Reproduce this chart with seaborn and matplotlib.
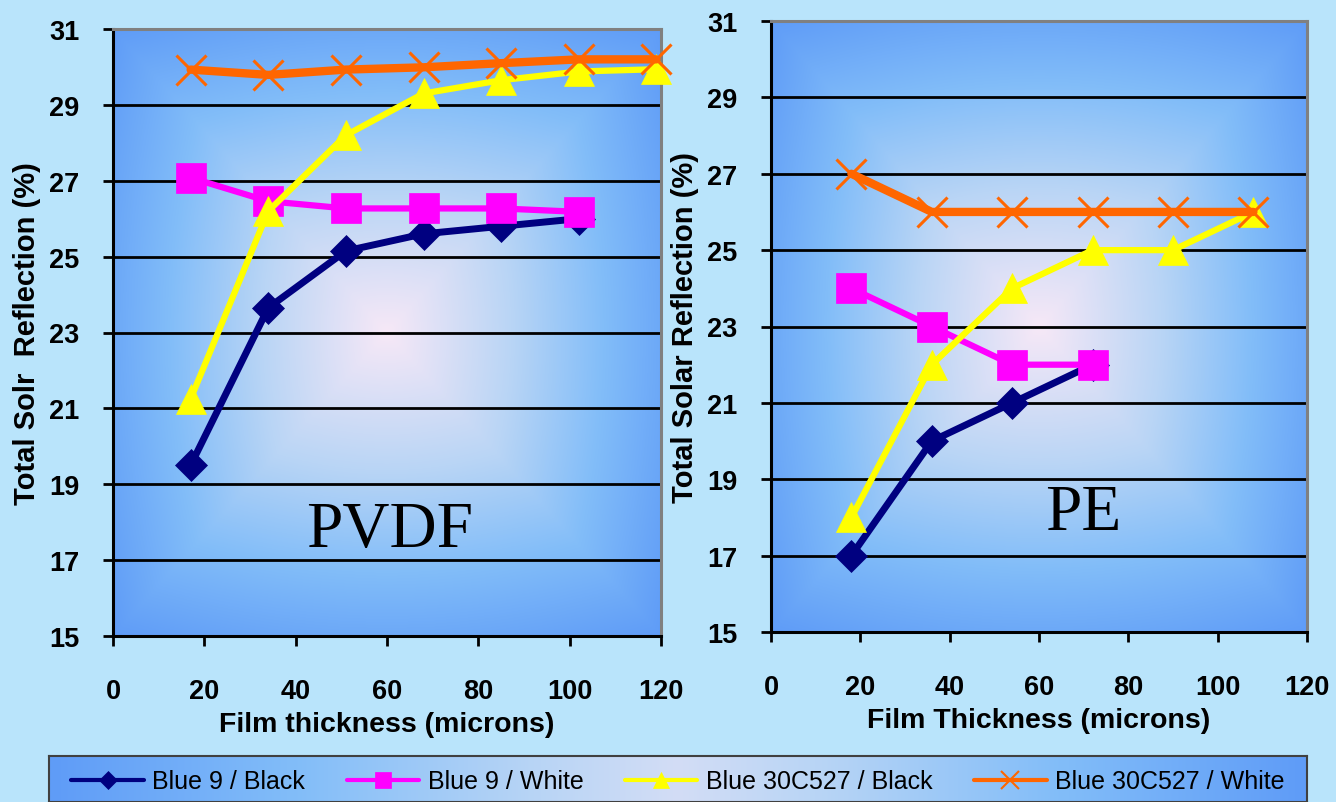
import numpy as np
import matplotlib
matplotlib.use("Agg")
import matplotlib.pyplot as plt
from matplotlib.colors import LinearSegmentedColormap
from matplotlib.lines import Line2D
import seaborn as sns

# PVDF data
pvdf_x = [17, 34, 51, 68, 85, 102, 119]
pvdf_b9_black = [19.5, 23.65, 25.15, 25.6, 25.8, 26.0]
pvdf_b9_white = [27.08, 26.46, 26.27, 26.27, 26.27, 26.18]
pvdf_b30_black = [21.25, 26.2, 28.2, 29.3, 29.65, 29.88, 29.94]
pvdf_b30_white = [29.93, 29.79, 29.93, 29.99, 30.1, 30.2, 30.2]

# PE data
pe_x = [18, 36, 54, 72, 90, 108]
pe_b9_black = [17, 20, 21, 22]
pe_b9_white = [24, 23, 22, 22]
pe_b30_black = [18, 22, 24, 25, 25, 26]
pe_b30_white = [27, 26, 26, 26, 26, 26]

series_names = ["Blue 9 / Black", "Blue 9 / White",
                "Blue 30C527 / Black", "Blue 30C527 / White"]
colors = ["#000080", "#ff00ff", "#ffff00", "#ff6600"]
markers = ["D", "s", "^", "x"]
msizes = [16, 22, 22, 22]
lwidths = [5, 4.5, 4.5, 6]

y_ticks = [15, 17, 19, 21, 23, 25, 27, 29, 31]
x_ticks = [0, 20, 40, 60, 80, 100, 120]

sns.set_style("white")
plt.rcParams["font.family"] = ["Liberation Sans", "DejaVu Sans"]
plt.rcParams["text.color"] = "black"
plt.rcParams["axes.labelcolor"] = "black"
plt.rcParams["xtick.color"] = "black"
plt.rcParams["ytick.color"] = "black"

fig_bg = "#b9e4fb"
grad_cmap = LinearSegmentedColormap.from_list(
    "bg", [(0, "#f6e8f7"), (0.4, "#b9d5f5"), (0.7, "#82bdf9"), (1, "#5f9cf7")])


def gradient_image(nx=300, ny=300):
    u = np.linspace(-1, 1, nx)
    v = np.linspace(-1, 1, ny)
    uu, vv = np.meshgrid(u, v)
    t = np.maximum(np.abs(uu), np.abs(vv))
    t = 0.6 * t + 0.4 * np.sqrt(uu ** 2 + vv ** 2) / np.sqrt(2)
    return np.clip(t, 0, 1)


def draw_panel(ax, xs, series, title, xlabel, ylabel, tx, ty):
    ax.imshow(gradient_image(), cmap=grad_cmap, extent=[0, 120, 15, 31],
              aspect="auto", zorder=0, interpolation="bicubic")
    for ys, name, c, m, ms, lw in zip(series, series_names, colors,
                                      markers, msizes, lwidths):
        sns.lineplot(x=xs[:len(ys)], y=ys, ax=ax, color=c, marker=m,
                     markersize=ms, linewidth=lw, markeredgecolor=c,
                     markeredgewidth=2.2 if m == "x" else 0.5,
                     clip_on=False, zorder=3, legend=False)
    ax.set_xlim(0, 120)
    ax.set_ylim(15, 31)
    ax.set_xticks(x_ticks)
    ax.set_yticks(y_ticks)
    ax.set_axisbelow(True)
    ax.yaxis.grid(True, color="black", linewidth=2)
    ax.xaxis.grid(False)
    for side in ["left", "bottom"]:
        ax.spines[side].set_color("black")
        ax.spines[side].set_linewidth(2.2)
    for side in ["top", "right"]:
        ax.spines[side].set_color("#808080")
        ax.spines[side].set_linewidth(2.2)
    ax.tick_params(axis="both", direction="out", length=7, width=2,
                   color="black", labelsize=19.5, left=True, bottom=True)
    ax.tick_params(axis="y", pad=17)
    ax.tick_params(axis="x", pad=23)
    for lab in ax.get_xticklabels() + ax.get_yticklabels():
        lab.set_fontweight("bold")
    ax.set_xlabel(xlabel, fontsize=20.5, fontweight="bold", labelpad=5)
    ax.set_ylabel(ylabel, fontsize=21, fontweight="bold", labelpad=6)
    ax.text(tx, ty, title, fontsize=47, ha="center", va="center",
            family="Liberation Serif", zorder=4)


fig = plt.figure(figsize=(13.36, 8.03), dpi=100, facecolor=fig_bg)

ax1 = fig.add_axes([113 / 1336, 1 - 637 / 803, 548 / 1336, 607 / 803])
ax2 = fig.add_axes([771 / 1336, 1 - 633 / 803, 536 / 1336, 611 / 803])

draw_panel(ax1, pvdf_x,
           [pvdf_b9_black, pvdf_b9_white, pvdf_b30_black, pvdf_b30_white],
           "PVDF", "Film thickness (microns)", "Total Solr  Reflection (%)",
           60.6, 17.8)
draw_panel(ax2, pe_x,
           [pe_b9_black, pe_b9_white, pe_b30_black, pe_b30_white],
           "PE", "Film Thickness (microns)", "Total Solar Reflection (%)",
           69.8, 18.1)

# legend box with gradient
axl = fig.add_axes([49 / 1336, 0, (1307 - 49) / 1336, (803 - 757) / 803])
u = np.linspace(-1, 1, 400)
lg = np.tile(np.abs(u), (20, 1))
axl.imshow(lg, cmap=grad_cmap, extent=[0, 1, 0, 1], aspect="auto",
           interpolation="bicubic", vmin=-0.3, vmax=1)
axl.set_xlim(0, 1)
axl.set_ylim(0, 1)
axl.set_xticks([])
axl.set_yticks([])
for side in axl.spines:
    axl.spines[side].set_color("#404040")
    axl.spines[side].set_linewidth(1.5)

leg_ms = [9, 12, 12, 13]
handles = [Line2D([], [], color=c, marker=m, markersize=ms, linewidth=3,
                  markeredgecolor=c, markeredgewidth=1.5 if m == "x" else 0.5)
           for c, m, ms in zip(colors, markers, leg_ms)]
axl.legend(handles, series_names, ncol=4, loc="center", frameon=False,
           fontsize=18, handlelength=2.9, handletextpad=0.35,
           columnspacing=1.65, bbox_to_anchor=(0.5, 0.45))

fig.savefig("out.png", dpi=100, facecolor=fig_bg)
